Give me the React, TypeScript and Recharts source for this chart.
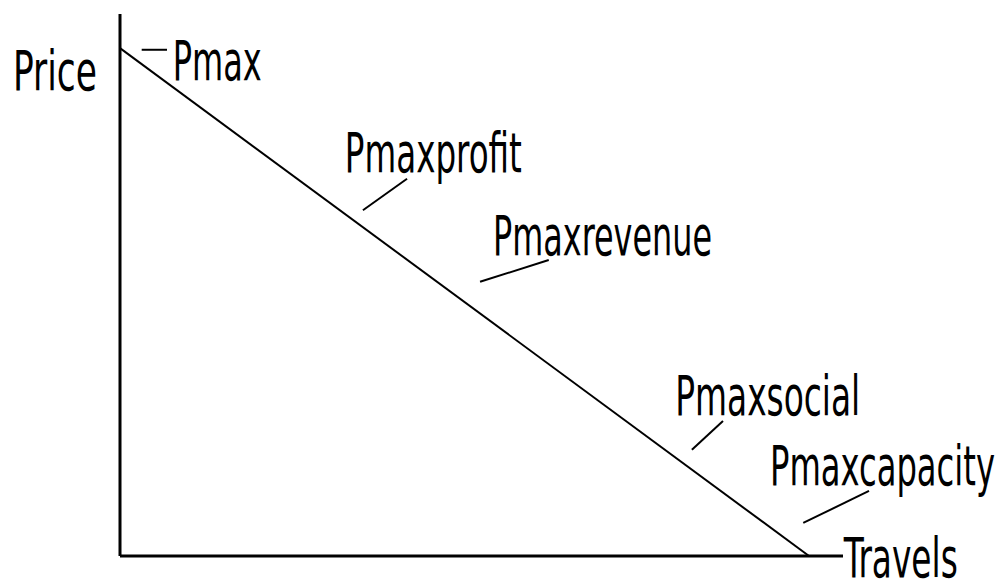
import { ComposedChart, Line, XAxis, YAxis, ReferenceLine, ReferenceDot } from "recharts";

// demand curve: travels (q) vs price (p)
const demand = [
  { q: 0, p: 93.7 },
  { q: 95.3, p: 0 },
];

// price levels marked along the curve
const labelNames = ["Price", "Pmax", "Pmaxprofit", "Pmaxrevenue", "Pmaxsocial", "Pmaxcapacity", "Travels"];
const labelQ = [-14.8, 7.3, 31.1, 51.6, 76.8, 89.9, 100.1];
const labelP = [86.0, 87.8, 70.8, 55.5, 26.0, 13.1, -3.9];

// leader strokes from label to curve
const leaderFrom = [
  { x: 3.0, y: 93.4 },
  { x: 39.7, y: 69.6 },
  { x: 59.3, y: 54.6 },
  { x: 83.4, y: 24.9 },
  { x: 103.6, y: 12.0 },
];
const leaderTo = [
  { x: 6.5, y: 93.4 },
  { x: 33.6, y: 63.8 },
  { x: 49.8, y: 50.6 },
  { x: 79.1, y: 19.6 },
  { x: 94.5, y: 6.1 },
];

const textWidths: Record<string, number> = {
  Price: 84,
  Pmax: 89,
  Pmaxprofit: 177,
  Pmaxrevenue: 219,
  Pmaxsocial: 185,
  Pmaxcapacity: 225,
  Travels: 114,
};

const font = '"DejaVu Sans Condensed", "Liberation Sans Narrow", sans-serif';

export default function App() {
  return (
    <div style={{ position: "absolute", left: 0, top: 0, background: "#fff" }}>
      <ComposedChart
        width={999}
        height={581}
        data={demand}
        margin={{ top: 14, right: 156, left: 119, bottom: 24 }}
      >
        <XAxis
          type="number"
          dataKey="q"
          domain={[0, 100]}
          height={1}
          tick={false}
          tickLine={false}
          axisLine={{ stroke: "#000", strokeWidth: 3 }}
        />
        <YAxis
          type="number"
          domain={[0, 100]}
          width={1}
          tick={false}
          tickLine={false}
          axisLine={{ stroke: "#000", strokeWidth: 3 }}
        />
        <Line
          dataKey="p"
          type="linear"
          stroke="#000"
          strokeWidth={2}
          dot={false}
          isAnimationActive={false}
        />
        {leaderFrom.map((a, i) => (
          <ReferenceLine
            key={"l" + i}
            segment={[a, leaderTo[i]]}
            stroke="#000"
            strokeWidth={2}
            ifOverflow="visible"
          />
        ))}
        {labelNames.map((name, i) => (
          <ReferenceDot
            key={name}
            x={labelQ[i]}
            y={labelP[i]}
            r={0}
            fill="none"
            stroke="none"
            ifOverflow="visible"
            label={(props: any) => (
              <text
                x={props.viewBox.x}
                y={props.viewBox.y}
                fontFamily={font}
                fontSize={55}
                fill="#000"
                textLength={textWidths[name]}
                lengthAdjust="spacingAndGlyphs"
              >
                {name}
              </text>
            )}
          />
        ))}
      </ComposedChart>
    </div>
  );
}
